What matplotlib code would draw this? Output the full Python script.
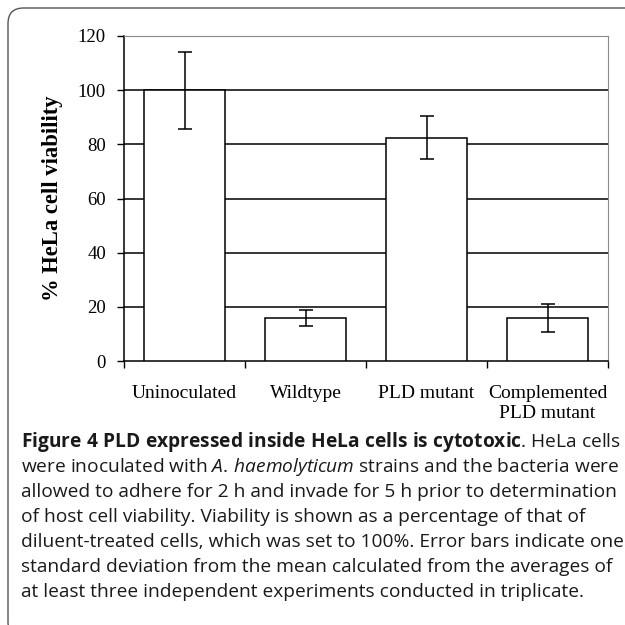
import matplotlib.pyplot as plt
from matplotlib.patches import FancyBboxPatch
from matplotlib.ticker import FixedLocator

categories = ["Uninoculated", "Wildtype", "PLD mutant", "Complemented\nPLD mutant"]
viability = [100, 15.8, 82.5, 15.8]
viability_sd = [14.2, 3.0, 8.0, 5.1]
y_ticks = [0, 20, 40, 60, 80, 100, 120]

caption_lines = [
    r"$\mathbf{Figure\ 4\ PLD\ expressed\ inside\ HeLa\ cells\ is\ cytotoxic}$. HeLa cells",
    r"were inoculated with $\mathit{A.\,haemolyticum}$ strains and the bacteria were",
    "allowed to adhere for 2 h and invade for 5 h prior to determination",
    "of host cell viability. Viability is shown as a percentage of that of",
    "diluent-treated cells, which was set to 100%. Error bars indicate one",
    "standard deviation from the mean calculated from the averages of",
    "at least three independent experiments conducted in triplicate.",
]

SERIF = "Liberation Serif"
CAPTION_FONT = "Open Sans"

plt.rcParams["mathtext.fontset"] = "custom"
plt.rcParams["mathtext.rm"] = CAPTION_FONT
plt.rcParams["mathtext.it"] = CAPTION_FONT + ":italic"
plt.rcParams["mathtext.bf"] = CAPTION_FONT + ":bold"

fig = plt.figure(figsize=(6.25, 6.25), dpi=100)
ax = fig.add_axes([0.1984, 0.4224, 0.7744, 0.52])

x = list(range(len(categories)))
ax.bar(x, viability, width=0.67, color="white", edgecolor="black",
       linewidth=1.1, zorder=3)
ax.errorbar(x, viability, yerr=viability_sd, fmt="none", ecolor="black",
            elinewidth=1.1, capsize=5, capthick=1.1, zorder=4)

ax.set_xlim(-0.5, len(categories) - 0.5)
ax.set_ylim(0, 120)
ax.set_yticks(y_ticks)
ax.set_yticklabels([str(v) for v in y_ticks], fontfamily=SERIF, fontsize=13.5)
for v in y_ticks[1:-1]:
    ax.axhline(v, color="black", linewidth=1.1, zorder=1)

# category labels in the middle, small ticks at the boundaries
ax.set_xticks(x)
ax.set_xticklabels(categories, fontfamily=SERIF, fontsize=14, linespacing=1.25)
ax.tick_params(axis="x", which="major", length=0, pad=17)
ax.xaxis.set_minor_locator(FixedLocator([i - 0.5 for i in range(len(categories) + 1)]))
ax.tick_params(axis="x", which="minor", length=5, width=1, color="black")
ax.tick_params(axis="y", length=5, width=1, pad=8)

ax.set_ylabel("% HeLa cell viability", fontfamily=SERIF, fontweight="bold",
              fontsize=16.3, labelpad=11)

for side in ("left", "bottom"):
    ax.spines[side].set_linewidth(1.1)
    ax.spines[side].set_color("black")
for side in ("top", "right"):
    ax.spines[side].set_linewidth(0.8)
    ax.spines[side].set_color("#8a8a8a")

# caption under the chart
for i, line in enumerate(caption_lines):
    fig.text(21 / 625, 1 - (442 + 25 * i) / 625, line, fontfamily=CAPTION_FONT,
             fontsize=13.8, va="center", ha="left", color="#1a1a1a")

# rounded frame around the figure
frame = FancyBboxPatch((8 / 625, -0.02), 1.1, 1 - 8 / 625 + 0.02,
                       boxstyle="round,pad=0,rounding_size=0.025",
                       transform=fig.transFigure, fill=False,
                       edgecolor="#555555", linewidth=1.0)
fig.patches.append(frame)

fig.savefig("out.png", dpi=100)
plt.close(fig)
